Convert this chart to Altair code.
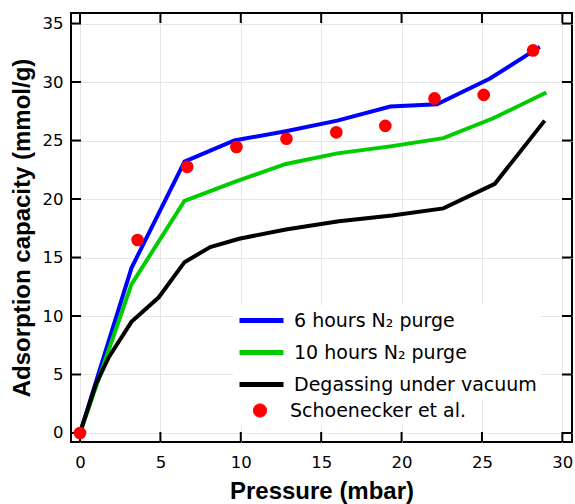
import altair as alt
import pandas as pd

# ---- data ----
series_names = ["6 hours N\u2082 purge", "10 hours N\u2082 purge", "Degassing under vacuum"]
series_colors = ["#0000ff", "#00cc00", "#000000"]
ref_label = "Schoenecker et al."
ref_color = "#ff0000"

blue_p = [0, 3.2, 6.5, 9.6, 12.8, 16.0, 19.3, 22.2, 25.5, 28.6]
blue_q = [0, 14.1, 23.2, 25.0, 25.8, 26.7, 27.9, 28.1, 30.3, 33.0]

green_p = [0, 3.2, 6.5, 9.7, 12.8, 16.0, 19.3, 22.6, 25.7, 29.0]
green_q = [0, 12.7, 19.85, 21.5, 23.0, 23.9, 24.5, 25.2, 26.9, 29.1]

black_p = [0, 1.0, 1.8, 3.2, 4.9, 6.5, 8.1, 9.9, 12.8, 16.1, 19.4, 22.6, 25.8, 28.9]
black_q = [0, 4.2, 6.5, 9.5, 11.6, 14.6, 15.9, 16.6, 17.4, 18.1, 18.6, 19.2, 21.3, 26.7]

ref_p = [0, 3.58, 6.67, 9.73, 12.84, 15.94, 18.99, 22.05, 25.11, 28.18]
ref_q = [0, 16.5, 22.75, 24.45, 25.15, 25.7, 26.25, 28.6, 28.9, 32.7]

x_ticks = [0, 5, 10, 15, 20, 25, 30]
y_ticks = [0, 5, 10, 15, 20, 25, 30, 35]

# ---- tables ----
rows = []
for name, ps, qs in zip(series_names, [blue_p, green_p, black_p], [blue_q, green_q, black_q]):
    for i, (p, q) in enumerate(zip(ps, qs)):
        rows.append({"series": name, "p": p, "q": q, "i": i})
lines_df = pd.DataFrame(rows)
ref_df = pd.DataFrame({"p": ref_p, "q": ref_q, "ref": ref_label})
xt_df = pd.DataFrame({"v": x_ticks})
yt_df = pd.DataFrame({"v": y_ticks})

W, H = 501, 429
TICK = 10
LABEL_FONT = "DejaVu Sans"
TITLE_FONT = "Liberation Sans"

xscale = alt.Scale(domain=[-0.56, 30.6], nice=False, zero=False)
yscale = alt.Scale(domain=[-0.77, 35.9], nice=False, zero=False)

x_axis = alt.Axis(values=x_ticks, ticks=False, domain=False, grid=True,
                  gridColor="#e6e6e6", gridWidth=1, labelFont=LABEL_FONT,
                  labelFontSize=16.5, labelColor="#000000", labelPadding=12,
                  title="Pressure (mbar)", titleFont=TITLE_FONT, titleFontSize=24,
                  titleFontWeight="bold", titleColor="#000000", titlePadding=9)
y_axis = alt.Axis(values=y_ticks, ticks=False, domain=False, grid=True,
                  gridColor="#e6e6e6", gridWidth=1, labelFont=LABEL_FONT,
                  labelFontSize=16.5, labelColor="#000000", labelPadding=8,
                  title="Adsorption capacity (mmol/g)", titleFont=TITLE_FONT,
                  titleFontSize=24, titleFontWeight="bold", titleColor="#000000",
                  titlePadding=8)

# legend symbols: a line / an offset circle (bezier), sharing one symbol column
line_path = "M-1,0H3.89"
cx, r, k = 1.5, 0.733, 0.5523
circle_path = (
    f"M{cx + r:.3f},0"
    f"C{cx + r:.3f},{k * r:.3f},{cx + k * r:.3f},{r:.3f},{cx:.3f},{r:.3f}"
    f"C{cx - k * r:.3f},{r:.3f},{cx - r:.3f},{k * r:.3f},{cx - r:.3f},0"
    f"C{cx - r:.3f},{-k * r:.3f},{cx - k * r:.3f},{-r:.3f},{cx:.3f},{-r:.3f}"
    f"C{cx + k * r:.3f},{-r:.3f},{cx + r:.3f},{-k * r:.3f},{cx + r:.3f},0Z"
)
leg_common = dict(title=None, orient="none", legendX=162, symbolSize=324,
                  labelFont=LABEL_FONT, labelFontSize=19, labelColor="#000000",
                  labelOffset=34, labelLimit=500, rowPadding=10,
                  fillColor="#ffffff", padding=4)

lines = alt.Chart(lines_df).mark_line(strokeWidth=4, clip=True).encode(
    x=alt.X("p:Q", scale=xscale, axis=x_axis),
    y=alt.Y("q:Q", scale=yscale, axis=y_axis),
    color=alt.Color("series:N", sort=series_names,
                    scale=alt.Scale(domain=series_names, range=series_colors),
                    legend=alt.Legend(legendY=292, symbolType=line_path,
                                      symbolStrokeWidth=5, zindex=2, **leg_common)),
    order="i:Q",
)

points = alt.Chart(ref_df).mark_point(filled=True, size=160, opacity=1,
                                       strokeWidth=0, clip=True).encode(
    x=alt.X("p:Q", scale=xscale),
    y=alt.Y("q:Q", scale=yscale),
    fill=alt.Fill("ref:N", scale=alt.Scale(domain=[ref_label], range=[ref_color]),
                  legend=alt.Legend(legendY=384, symbolType=circle_path,
                                    symbolStrokeWidth=1, symbolStrokeColor=ref_color,
                                    symbolOpacity=1, symbolFillColor=ref_color,
                                    zindex=1, **leg_common)),
)

# inward tick marks on all four sides
tick_style = dict(color="#000000", strokeWidth=2)
x_bottom = alt.Chart(xt_df).mark_rule(**tick_style).encode(
    x=alt.X("v:Q", scale=xscale), y=alt.value(H), y2=alt.value(H - TICK))
x_top = alt.Chart(xt_df).mark_rule(**tick_style).encode(
    x=alt.X("v:Q", scale=xscale), y=alt.value(0), y2=alt.value(TICK))
y_left = alt.Chart(yt_df).mark_rule(**tick_style).encode(
    y=alt.Y("v:Q", scale=yscale), x=alt.value(0), x2=alt.value(TICK))
y_right = alt.Chart(yt_df).mark_rule(**tick_style).encode(
    y=alt.Y("v:Q", scale=yscale), x=alt.value(W), x2=alt.value(W - TICK))

chart = alt.layer(x_bottom, x_top, y_left, y_right, lines, points).properties(
    width=W, height=H,
    autosize=alt.AutoSizeParams(type="none"),
    padding={"left": 71, "top": 13, "right": 3, "bottom": 62},
    background="#ffffff",
).configure_view(stroke="#000000", strokeWidth=2)

chart.save("out.html", embed_options={"renderer": "svg", "actions": False})
